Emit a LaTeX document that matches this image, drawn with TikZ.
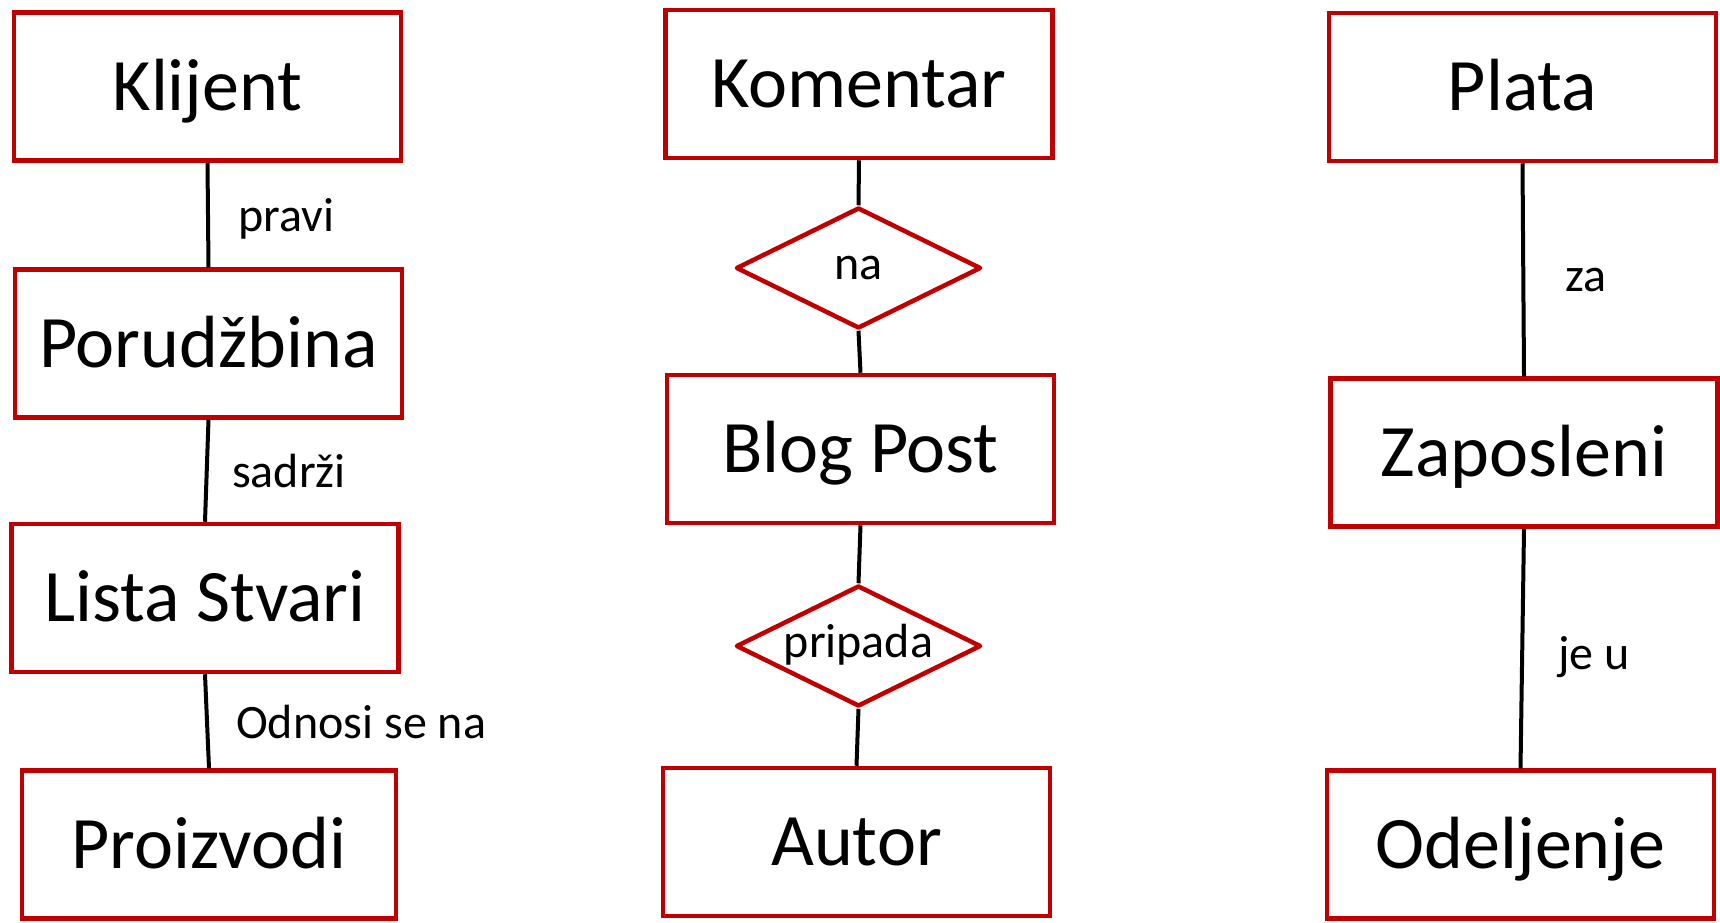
\documentclass[tikz,border=0pt]{standalone}
\usepackage{fontspec}
\setmainfont{Carlito}
\usepackage{xcolor}
\usetikzlibrary{shapes,positioning}
\definecolor{erred}{HTML}{C00000}

\begin{document}
\begin{tikzpicture}[x=1pt,y=-1pt]
		\tikzstyle{entity}=[draw=erred, line width=4.5pt, minimum width=387pt, minimum height=148pt, inner sep=0pt, text height=47.7pt, text depth=0pt, font=\fontsize{74}{88}\selectfont]
		\tikzstyle{relation}=[diamond, shape aspect=2.05, draw=erred, line width=4.5pt, line join=round, minimum width=245pt, minimum height=121pt, inner sep=0pt, text height=22.4pt, text depth=0pt, font=\fontsize{48}{58}\selectfont]
		\tikzstyle{rel label}=[anchor=base west, inner sep=0pt, font=\fontsize{48}{58}\selectfont]
		\tikzstyle{link}=[line width=4pt, black]
		\useasboundingbox (0,0) rectangle (1720,922);
		% left column
		\node [entity] (klijent) at (207.5,86.5) {Klijent};
		\node [entity] (porudzbina) at (208.5,343.5) {Porudžbina};
		\node [entity] (lista) at (205,598) {Lista Stvari};
		\node [entity, minimum width=374pt] (proizvodi) at (209,844.5) {Proizvodi};
		\draw [link] (klijent.south) -- (porudzbina.north);
		\draw [link] (porudzbina.south) -- (lista.north);
		\draw [link] (lista.south) -- (proizvodi.north);
		\node [rel label] (pravi) at (238,231) {pravi};
		\node [rel label] (sadrzi) at (232,487) {sadrži};
		\node [rel label] (odnosi) at (236,738) {Odnosi se na};
		% middle column
		\node [entity] (komentar) at (859,84) {Komentar};
		\node [relation] (na) at (858.5,268) {na};
		\node [entity] (blogpost) at (860.5,449) {Blog Post};
		\node [relation] (pripada) at (858.5,646) {pripada};
		\node [entity] (autor) at (856.5,842) {Autor};
		\draw [link] (komentar.south) -- (na.north);
		\draw [link] (na.south) -- (blogpost.north);
		\draw [link] (blogpost.south) -- (pripada.north);
		\draw [link] (pripada.south) -- (autor.north);
		% right column
		\node [entity] (plata) at (1522.5,87) {Plata};
		\node [entity] (zaposleni) at (1524,452.5) {Zaposleni};
		\node [entity] (odeljenje) at (1520.5,844.5) {Odeljenje};
		\draw [link] (plata.south) -- (zaposleni.north);
		\draw [link] (zaposleni.south) -- (odeljenje.north);
		\node [rel label] (za) at (1565,291) {za};
		\node [rel label] (jeu) at (1558,669) {je u};
\end{tikzpicture}
\end{document}
